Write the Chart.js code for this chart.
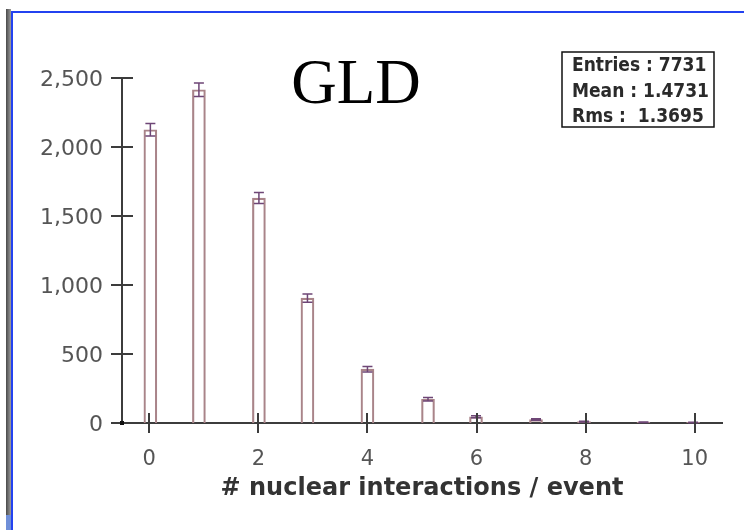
<!DOCTYPE html>
<html>
<head>
<meta charset="utf-8">
<script src="https://cdn.jsdelivr.net/npm/chart.js@4.4.0/dist/chart.umd.min.js"></script>
<style>
  html, body { margin: 0; padding: 0; background: #fff; }
  #wrap { position: relative; width: 744px; height: 530px; overflow: hidden; background: #fff; }
  #plot { position: absolute; left: 0; top: 0; }
  .shade { position: absolute; left: 6px; top: 9px; width: 5px; height: 506px;
           background: linear-gradient(to right, #4a4a4a, #9c9c9c); }
  .shade-low { position: absolute; left: 6px; top: 515px; width: 5px; height: 15px; background: #6f8fd8; }
  .edge-left { position: absolute; left: 11px; top: 11px; width: 2px; height: 519px; background: #2342f0; }
  .edge-top { position: absolute; left: 11px; top: 11px; width: 733px; height: 2px; background: #2342f0; }
</style>
</head>
<body>
<div id="wrap">
  <canvas id="plot" width="744" height="530"></canvas>
  <div class="shade"></div>
  <div class="shade-low"></div>
  <div class="edge-left"></div>
  <div class="edge-top"></div>
</div>
<script>
// Histogram bins: centre of each bin, entries and statistical error
const binCenters = [0.02, 0.91, 2.01, 2.9, 4.0, 5.11, 5.99, 7.09, 7.97, 9.06, 9.97];
const counts     = [2125, 2415, 1630, 905, 390, 172, 45, 25, 10, 6, 4];
const errors     = [46, 49, 40, 30, 20, 13, 7, 5, 3, 2, 2];

const xTicks = [0, 2, 4, 6, 8, 10];
const yTicks = [0, 500, 1000, 1500, 2000, 2500];

const titleText = 'GLD';
const xTitle = '# nuclear interactions / event';
const statsLines = ['Entries : 7731', 'Mean : 1.4731', 'Rms :  1.3695'];

const AXIS_COLOR = '#3c3c3c';
const LABEL_COLOR = '#555555';

// Tick marks that cross the axis lines, the origin marker, error bars, title and stats box
const histDecor = {
  id: 'histDecor',
  afterDatasetsDraw(chart) {
    const { ctx, scales: { x, y } } = chart;
    ctx.save();
    ctx.strokeStyle = '#6e4676';
    ctx.lineWidth = 1.5;
    binCenters.forEach((c, i) => {
      const px = x.getPixelForValue(c);
      const top = y.getPixelForValue(counts[i] + errors[i]);
      const bot = y.getPixelForValue(Math.max(0, counts[i] - errors[i]));
      ctx.beginPath();
      ctx.moveTo(px, top); ctx.lineTo(px, bot);
      ctx.moveTo(px - 5, top); ctx.lineTo(px + 5, top);
      ctx.moveTo(px - 5, bot); ctx.lineTo(px + 5, bot);
      ctx.stroke();
    });
    ctx.restore();
  },
  afterDraw(chart) {
    const { ctx, chartArea, scales: { x, y } } = chart;
    ctx.save();
    ctx.strokeStyle = AXIS_COLOR;
    ctx.lineWidth = 2;
    ctx.beginPath();
    xTicks.forEach(v => {
      const px = Math.round(x.getPixelForValue(v));
      ctx.moveTo(px, chartArea.bottom - 10);
      ctx.lineTo(px, chartArea.bottom + 10);
    });
    yTicks.forEach(v => {
      const py = Math.round(y.getPixelForValue(v));
      ctx.moveTo(chartArea.left - 11, py);
      ctx.lineTo(chartArea.left + 11, py);
    });
    ctx.stroke();
    ctx.fillStyle = '#111';
    ctx.fillRect(chartArea.left - 2, chartArea.bottom - 2, 4, 4);

    // title
    ctx.fillStyle = '#000';
    ctx.font = '63px "Liberation Serif"';
    ctx.textAlign = 'center';
    ctx.textBaseline = 'alphabetic';
    ctx.fillText(titleText, 356, 103);

    // stats box
    ctx.fillStyle = '#fff';
    ctx.fillRect(562, 52, 152, 75);
    ctx.strokeStyle = '#111';
    ctx.lineWidth = 1.5;
    ctx.strokeRect(562, 52, 152, 75);
    ctx.fillStyle = '#2a2a2a';
    ctx.font = 'bold 19px "DejaVu Sans Condensed", "DejaVu Sans"';
    ctx.textAlign = 'left';
    const base = [71, 96.5, 121.5];
    statsLines.forEach((t, i) => ctx.fillText(t, 572, base[i]));
    ctx.restore();
  }
};

new Chart(document.getElementById('plot').getContext('2d'), {
  type: 'bar',
  data: {
    datasets: [{
      data: binCenters.map((c, i) => ({ x: c, y: counts[i] })),
      backgroundColor: 'rgba(255,255,255,0)',
      borderColor: '#a98489',
      borderWidth: 1.5,
      borderSkipped: 'bottom',
      barThickness: 13
    }]
  },
  options: {
    responsive: false,
    animation: false,
    layout: { padding: { left: 0, right: 22, top: 78, bottom: 0 } },
    plugins: {
      legend: { display: false },
      tooltip: { enabled: false },
      title: { display: false }
    },
    scales: {
      x: {
        type: 'linear',
        min: -0.5,
        max: 10.5,
        offset: false,
        grid: { display: false },
        border: { display: true, color: AXIS_COLOR, width: 2 },
        afterBuildTicks: s => { s.ticks = xTicks.map(v => ({ value: v })); },
        afterFit: s => { s.height = 107; },
        ticks: {
          color: LABEL_COLOR,
          padding: 16,
          maxRotation: 0,
          autoSkip: false,
          font: { family: '"DejaVu Sans"', size: 21 },
          callback: v => String(v)
        },
        title: {
          display: true,
          text: xTitle,
          color: '#333',
          font: { family: '"DejaVu Sans"', weight: 'bold', size: 24 },
          padding: { top: 0, bottom: 27 }
        }
      },
      y: {
        min: 0,
        max: 2500,
        grid: { display: false },
        border: { display: true, color: AXIS_COLOR, width: 2 },
        afterBuildTicks: s => { s.ticks = yTicks.map(v => ({ value: v })); },
        afterFit: s => { s.width = 122; },
        ticks: {
          color: LABEL_COLOR,
          padding: 11,
          labelOffset: 2,
          font: { family: '"DejaVu Sans"', size: 22 },
          callback: v => Number(v).toLocaleString('en-US')
        }
      }
    }
  },
  plugins: [histDecor]
});
</script>
</body>
</html>
